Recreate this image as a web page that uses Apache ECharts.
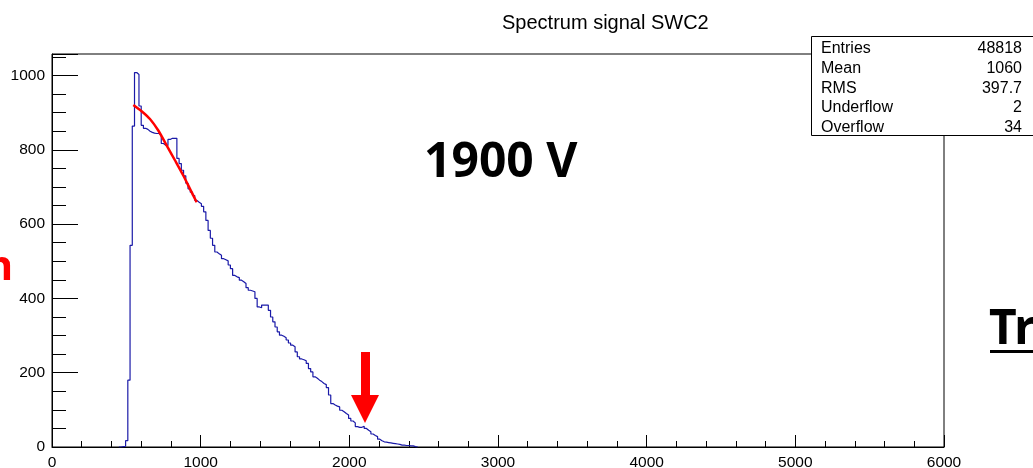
<!DOCTYPE html>
<html>
<head>
<meta charset="utf-8">
<script src="https://cdn.jsdelivr.net/npm/echarts@6/dist/echarts.min.js"></script>
<style>
  html, body { margin: 0; padding: 0; background: #fff; }
  #chart { width: 1033px; height: 468px; }
</style>
</head>
<body>
<div id="chart"></div>
<script>
// histogram: bin lower edges start at 450, 15 wide
const binStart = 450;
const binWidth = 15;
const counts = [
  0, 1, 2, 17, 180, 543, 864, 1008, 1003, 918,
  866, 858, 855, 850, 847, 845, 844, 844, 839, 817,
  812, 812, 828, 831, 831, 831, 777, 763, 745, 730,
  710, 695, 686, 677, 664, 659, 655, 648, 633, 610,
  583, 562, 543, 525, 520, 516, 507, 504, 501, 490,
  480, 462, 458, 456, 449, 445, 440, 429, 422, 420,
  418, 400, 377, 375, 382, 382, 382, 368, 350, 337,
  323, 310, 301, 298, 294, 288, 280, 274, 270, 256,
  243, 237, 235, 232, 225, 211, 202, 189, 185, 180,
  176, 171, 168, 160, 140, 117, 113, 110, 108, 99,
  95, 90, 86, 77, 70, 65, 55, 53, 53, 56,
  50, 45, 41, 35, 31, 28, 21, 17, 14, 13,
  12, 11, 10, 9, 8, 7, 5, 5, 4, 4,
  3, 3, 1, 0
];

// red fit curve
const fitX = [547, 603, 659, 715, 771, 827, 883, 928, 973];
const fitY = [921, 904, 883, 852, 812, 772, 731, 695, 659];

// stats box
const statNames = ['Entries', 'Mean', 'RMS', 'Underflow', 'Overflow'];
const statValues = ['48818', '1060', '397.7', '2', '34'];

const histData = counts.map((c, i) => [binStart + i * binWidth, c]);
histData.push([binStart + counts.length * binWidth, 0]);
const fitData = fitX.map((x, i) => [x, fitY[i]]);

const font = '"Liberation Sans", Arial, sans-serif';

const graphics = [{
  type: 'rect',
  shape: { x: 811.5, y: 36.5, width: 240, height: 99 },
  style: { fill: '#fff', stroke: '#000', lineWidth: 1 },
  z: 100
}];
statNames.forEach((name, i) => {
  graphics.push({
    type: 'text', left: 821, top: 40.5 + i * 19.8, z: 101,
    style: { text: name, font: '16px ' + font, fill: '#000' }
  });
  graphics.push({
    type: 'text', right: 11, top: 40.5 + i * 19.8, z: 101,
    style: { text: statValues[i], font: '16px ' + font, fill: '#000', align: 'right' }
  });
});
graphics.push(
  // red arrow
  {
    type: 'polygon', z: 50,
    shape: { points: [[361, 352], [370, 352], [370, 395], [379, 395], [365, 423], [351, 395], [361, 395]] },
    style: { fill: '#ff0000' }
  },
  {
    type: 'text', left: 424, top: 139, z: 50,
    style: { text: '1900 V', font: 'bold 48px "Noto Sans", sans-serif', fill: '#000' }
  },
  {
    type: 'text', right: 1020, top: 247, z: 50,
    style: { text: 'n', font: 'bold 42px "Noto Sans", sans-serif', fill: '#ff0000', align: 'right' }
  },
  {
    type: 'text', left: 989, top: 306, z: 50,
    style: { text: 'Tr', font: 'bold 48px "Noto Sans", sans-serif', fill: '#000' }
  },
  {
    type: 'rect', z: 50,
    shape: { x: 990, y: 350, width: 43, height: 3 },
    style: { fill: '#000' }
  }
);

const chart = echarts.init(document.getElementById('chart'));
chart.setOption({
  animation: false,
  title: {
    text: 'Spectrum signal SWC2',
    left: 497, top: 8,
    textStyle: { fontFamily: font, fontSize: 20, fontWeight: 'normal', color: '#000' }
  },
  grid: {
    left: 52, right: 89, top: 54, bottom: 21,
    outerBoundsMode: 'none', containLabel: false,
    show: true, borderColor: '#000', borderWidth: 1, backgroundColor: 'transparent'
  },
  xAxis: {
    type: 'value', min: 0, max: 6000, interval: 1000,
    axisLine: { lineStyle: { color: '#000', width: 1 } },
    axisTick: { inside: true, length: 12, lineStyle: { color: '#000' } },
    minorTick: { show: true, splitNumber: 5, length: 6, lineStyle: { color: '#000' } },
    splitLine: { show: false },
    axisLabel: { color: '#000', fontFamily: font, fontSize: 15.5, margin: 8, formatter: v => String(v) }
  },
  yAxis: {
    type: 'value', min: 0, max: 1058, interval: 200,
    axisLine: { show: true, lineStyle: { color: '#000', width: 1 } },
    axisTick: { show: true, inside: true, length: 26, lineStyle: { color: '#000' } },
    minorTick: { show: true, splitNumber: 4, length: 14, lineStyle: { color: '#000' } },
    splitLine: { show: false },
    axisLabel: { color: '#000', fontFamily: font, fontSize: 15.5, margin: 7, showMaxLabel: false, formatter: v => String(v) }
  },
  series: [
    {
      type: 'line', data: histData, step: 'end', symbol: 'none',
      lineStyle: { color: '#1a1aa8', width: 1.2 }
    },
    {
      type: 'line', data: fitData, smooth: 0.3, symbol: 'none',
      lineStyle: { color: '#ff0000', width: 2.5 }, z: 5
    }
  ],
  graphic: graphics
});

// minor tick above the last labelled value, as ROOT draws it
const p = chart.convertToPixel({ gridIndex: 0 }, [0, 1050]);
graphics.push({
  type: 'line', z: 40,
  shape: { x1: p[0], y1: Math.round(p[1]) + 0.5, x2: p[0] + 14, y2: Math.round(p[1]) + 0.5 },
  style: { stroke: '#000', lineWidth: 1 }
});
chart.setOption({ graphic: graphics });
</script>
</body>
</html>
